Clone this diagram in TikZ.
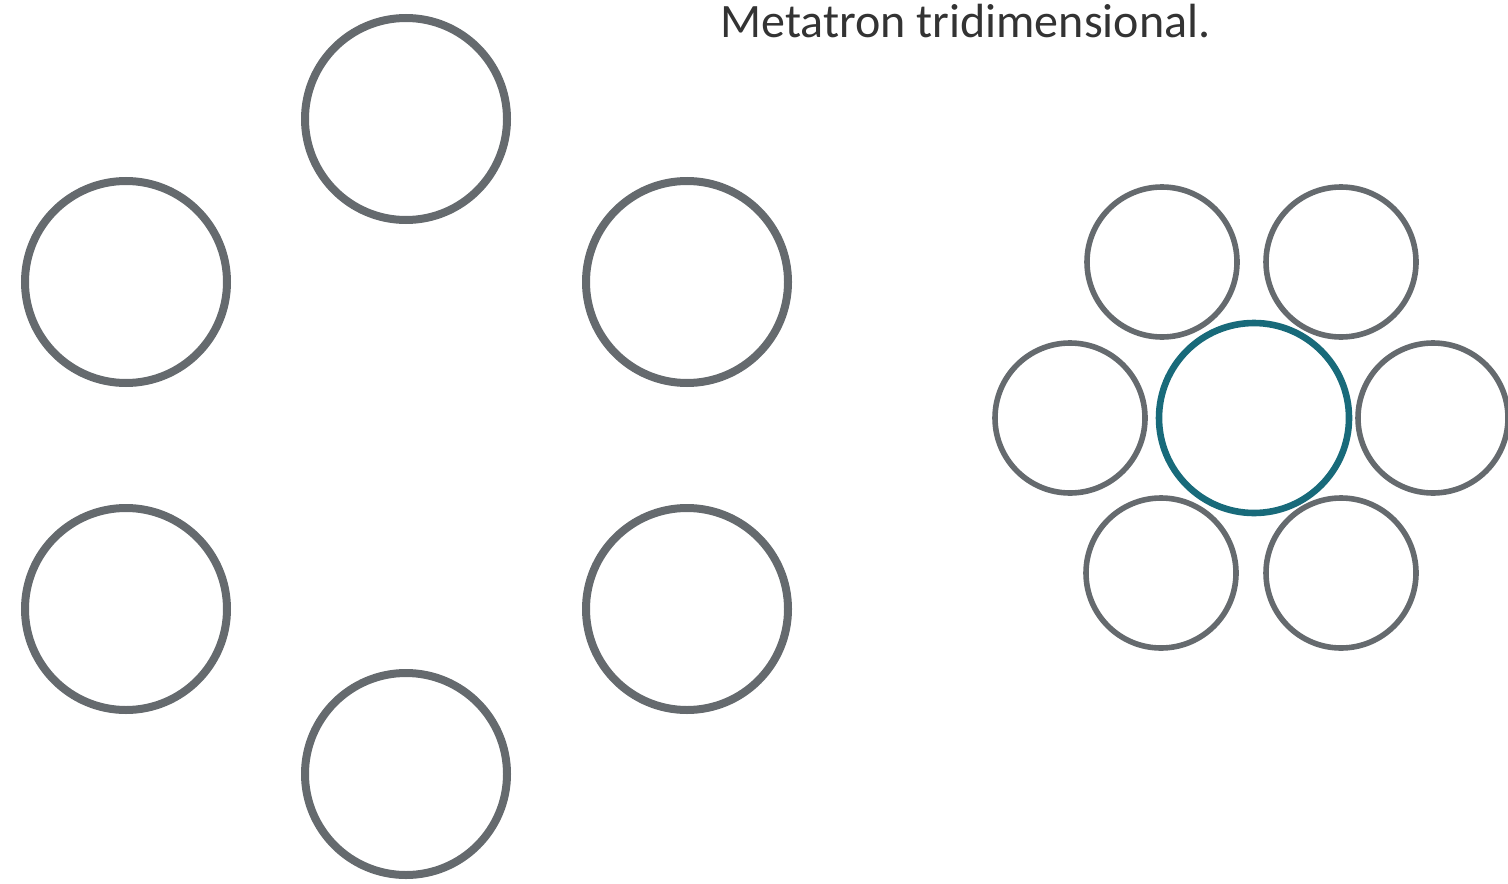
\documentclass[tikz,border=0pt]{standalone}
\usepackage{fontspec}
\setmainfont{Carlito}
\usetikzlibrary{positioning}
\definecolor{Slate}{RGB}{101,106,110}
\definecolor{Petrol}{RGB}{24,106,122}
\definecolor{Ink}{RGB}{51,51,51}

\begin{document}
\begin{tikzpicture}[x=0.5pt,y=-0.5pt,
    ring/.style={circle,draw=Slate,line width=4pt,minimum size=101pt,inner sep=0pt},
    petal/.style={circle,draw=Slate,line width=2.8pt,minimum size=75pt,inner sep=0pt},
    core/.style={circle,draw=Petrol,line width=3.3pt,minimum size=95pt,inner sep=0pt}
]
\useasboundingbox (0,0) rectangle (1508,883);

% Title
\node[anchor=base west,inner sep=0pt,text=Ink,font=\fontsize{24}{29}\selectfont] (title) at (720,38) {Metatron tridimensional.};

% Left hexagon of rings
\node[ring] (ring-top) at (406,119) {};
\node[ring] (ring-ul) at (126,282) {};
\node[ring] (ring-ur) at (687,282) {};
\node[ring] (ring-ll) at (126,609) {};
\node[ring] (ring-lr) at (687,609) {};
\node[ring] (ring-bot) at (406,774) {};

% Right flower
\node[core] (core) at (1254,418) {};
\node[petal] (petal-ul) at (1162,262) {};
\node[petal] (petal-ur) at (1341,262) {};
\node[petal] (petal-l) at (1070,418) {};
\node[petal] (petal-r) at (1433,418) {};
\node[petal] (petal-ll) at (1161,573) {};
\node[petal] (petal-lr) at (1341,573) {};

\end{tikzpicture}
\end{document}
